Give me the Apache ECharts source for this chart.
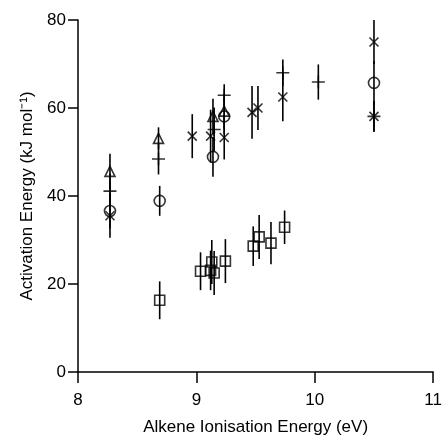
<!DOCTYPE html>
<html>
<head>
<meta charset="utf-8">
<script src="https://cdn.jsdelivr.net/npm/echarts@6/dist/echarts.min.js"></script>
<style>
  html, body { margin: 0; padding: 0; background: #fff; }
  #chart { width: 445px; height: 441px; }
</style>
</head>
<body>
<div id="chart"></div>
<script>
// [ionisation energy (eV), activation energy (kJ/mol), error]
var triangles = [
    [8.27, 45.6, 4], [8.68, 53.1, 2.5], [9.14, 58.1, 4], [9.235, 59.3, 4]
];
var pluses = [
    [8.27, 41.1, 4], [8.68, 48.4, 3.5], [9.15, 55.1, 5], [9.235, 62.9, 2.5],
    [9.73, 68.0, 3], [10.03, 65.9, 4], [10.5, 58.1, 3.5]
];
var crosses = [
    [8.27, 35.5, 5], [8.965, 53.6, 5], [9.12, 53.6, 6], [9.235, 53.3, 5],
    [9.47, 59.0, 6], [9.52, 60.0, 5], [9.73, 62.5, 5.5], [10.5, 75.0, 5], [10.5, 58.1, 3.5]
];
var circles = [
    [8.27, 36.6, 4], [8.69, 38.9, 3.4], [9.14, 48.9, 4.5], [9.235, 58.1, 4], [10.5, 65.7, 5]
];
var squares = [
    [8.69, 16.3, 4.3], [9.035, 22.9, 4.3], [9.13, 25.0, 5], [9.12, 23.1, 4.5],
    [9.15, 22.5, 5], [9.245, 25.2, 5], [9.48, 28.6, 4.5], [9.53, 30.7, 5],
    [9.63, 29.3, 4.8], [9.745, 32.9, 3.8]
];
var xTicks = [8, 9, 10, 11];
var yTicks = [0, 20, 40, 60, 80];

var chart = echarts.init(document.getElementById('chart'));
var font = 'Liberation Sans, Arial, sans-serif';

var allPts = [].concat(triangles, pluses, crosses, circles, squares);

function errBars(params, api) {
    var x = api.value(0), y = api.value(1), e = api.value(2);
    var top = api.coord([x, y + e]);
    var bot = api.coord([x, y - e]);
    return {
        type: 'line',
        shape: { x1: top[0], y1: top[1], x2: bot[0], y2: bot[1] },
        style: { stroke: '#000', lineWidth: 1.6 }
    };
}

var hollow = { color: 'none', borderColor: '#000', borderWidth: 1.6 };

function markers(data, symbol, size) {
    return {
        type: 'scatter',
        data: data,
        symbol: symbol,
        symbolSize: size,
        itemStyle: hollow,
        silent: true,
        z: 3
    };
}

chart.setOption({
    animation: false,
    grid: { left: 78, right: 8, top: 20, bottom: 67 },
    xAxis: {
        type: 'value',
        min: xTicks[0], max: xTicks[xTicks.length - 1], interval: 1,
        name: 'Alkene Ionisation Energy (eV)',
        nameLocation: 'middle', nameGap: 47,
        nameTextStyle: { fontFamily: font, fontSize: 17, color: '#000' },
        axisLine: { onZero: false, lineStyle: { color: '#000', width: 1.5 } },
        axisTick: { length: 11, lineStyle: { color: '#000', width: 1.5 } },
        axisLabel: { margin: 20, fontFamily: font, fontSize: 17, color: '#000' },
        splitLine: { show: false }
    },
    yAxis: {
        type: 'value',
        min: yTicks[0], max: yTicks[yTicks.length - 1], interval: 20,
        name: 'Activation Energy (kJ mol\u207B\u00B9)',
        nameLocation: 'middle', nameGap: 41, nameRotate: 90,
        nameTextStyle: { fontFamily: font, fontSize: 17, color: '#000' },
        axisLine: { show: true, onZero: false, lineStyle: { color: '#000', width: 1.5 } },
        axisTick: { show: true, length: 10, lineStyle: { color: '#000', width: 1.5 } },
        axisLabel: { margin: 12, fontFamily: font, fontSize: 17, color: '#000' },
        splitLine: { show: false }
    },
    series: [
        {
            type: 'custom',
            renderItem: errBars,
            data: allPts,
            silent: true,
            z: 2
        },
        markers(triangles, 'triangle', 10),
        markers(pluses, 'path://M0,5L10,5M5,0L5,10', 13),
        markers(crosses, 'path://M0,0L10,10M0,10L10,0', 9),
        markers(circles, 'circle', 11),
        markers(squares, 'rect', 10)
    ]
});
</script>
</body>
</html>
